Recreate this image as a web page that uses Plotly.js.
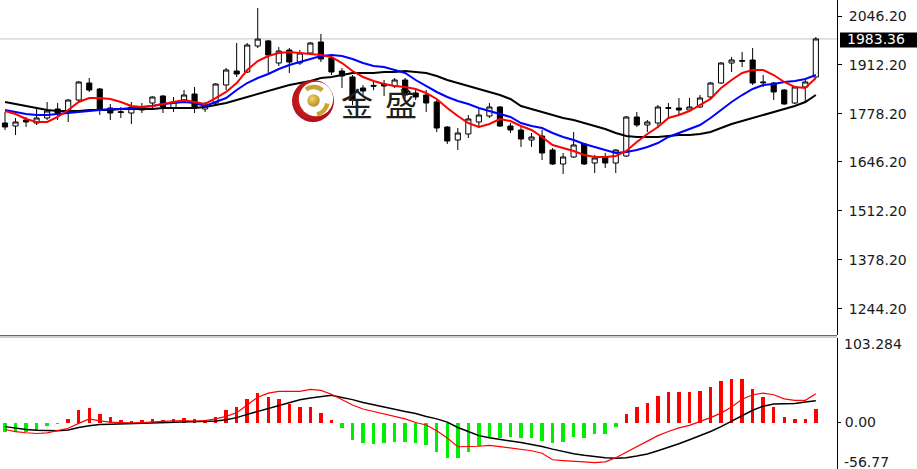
<!DOCTYPE html>
<html>
<head>
<meta charset="utf-8">
<script src="https://cdn.plot.ly/plotly-3.0.1.min.js"></script>
<style>html,body{margin:0;padding:0;background:#fff;}#chart{width:917px;height:469px;}</style>
</head>
<body>
<div id="chart"></div>
<script>
// ---- candle data ----
const open = [1753.0,1744.8,1761.2,1753.0,1766.7,1791.4,1783.2,1816.0,1862.6,1846.2,
1794.1,1784.0,1780.4,1788.6,1807.8,1827.0,1794.1,1816.0,1832.5,1791.4,
1807.8,1857.2,1895.5,1892.8,1964.0,1978.0,1917.4,1953.0,1917.4,1944.8,
1975.0,1931.1,1895.5,1879.1,1848.9,1856.0,1859.9,1854.4,1870.8,1835.2,
1829.7,1810.6,1742.1,1706.4,1722.9,1755.8,1772.2,1796.9,1744.8,1733.8,
1706.4,1717.4,1679.0,1640.7,1659.9,1695.5,1643.4,1659.9,1643.4,1662.6,
1769.5,1747.5,1753.0,1793.0,1794.1,1788.6,1796.9,1824.3,1862.6,1917.4,
1922.0,1925.6,1863.0,1862.6,1843.4,1807.8,1851.7,1879.1];
const high = [1783.2,1766.7,1769.5,1794.1,1810.6,1807.8,1818.0,1868.0,1876.3,1848.9,
1805.1,1796.9,1810.6,1807.8,1826.0,1829.7,1824.3,1843.4,1851.7,1810.6,
1862.0,1903.7,1972.2,1972.2,2068.1,1980.4,1961.0,1958.5,1953.0,1975.0,
1996.9,1933.9,1903.7,1884.5,1857.0,1866.0,1870.8,1876.3,1876.3,1843.4,
1843.4,1816.0,1744.0,1739.3,1774.9,1791.4,1807.8,1799.6,1753.0,1742.1,
1725.6,1733.8,1684.5,1670.8,1728.4,1698.2,1665.3,1670.8,1681.0,1772.2,
1783.2,1761.2,1802.3,1807.8,1821.5,1821.5,1829.7,1865.4,1920.1,1933.9,
1947.6,1958.5,1884.5,1865.4,1846.2,1854.4,1870.8,1988.6];
const low = [1733.8,1720.1,1742.1,1747.5,1761.2,1761.2,1755.8,1810.6,1838.0,1774.9,
1761.2,1766.7,1750.3,1780.4,1794.1,1780.4,1783.2,1807.8,1780.4,1783.2,
1802.3,1843.4,1879.1,1890.0,1958.5,1890.0,1909.2,1890.0,1911.9,1939.3,
1920.1,1884.5,1848.9,1802.3,1830.0,1843.0,1827.0,1848.9,1821.5,1816.0,
1783.2,1728.4,1695.5,1679.0,1711.9,1739.3,1766.7,1742.1,1725.6,1687.3,
1687.3,1651.6,1637.9,1613.3,1657.1,1637.9,1616.0,1629.7,1616.0,1659.9,
1742.1,1728.4,1739.3,1766.7,1774.9,1783.2,1794.1,1821.5,1859.9,1892.8,
1906.0,1857.2,1851.7,1816.0,1803.0,1805.0,1807.8,1877.0];
const close = [1742.1,1755.8,1755.8,1766.7,1785.9,1777.7,1816.0,1865.4,1843.4,1788.6,
1780.4,1782.0,1796.9,1796.9,1824.3,1796.9,1810.6,1829.7,1794.1,1802.3,
1859.9,1898.2,1887.3,1966.7,1983.0,1939.3,1950.3,1920.1,1944.8,1972.2,
1928.4,1892.8,1881.8,1816.0,1840.7,1854.0,1854.4,1870.8,1829.7,1824.3,
1807.8,1739.3,1703.7,1725.6,1764.0,1774.9,1796.9,1744.8,1733.8,1709.2,
1714.7,1670.8,1640.7,1659.9,1692.8,1640.7,1657.1,1643.4,1679.0,1769.5,
1747.5,1755.8,1796.9,1795.0,1788.6,1796.9,1821.5,1862.6,1917.4,1925.6,
1924.0,1862.6,1865.0,1838.0,1805.1,1851.7,1865.4,1983.36];

// ---- moving averages ----
const maRed = [1785.9,1777.7,1764.0,1755.8,1755.8,1769.5,1788.6,1810.6,1821.5,1821.5,
1818.8,1810.6,1799.6,1796.9,1799.6,1805.1,1810.6,1816.0,1810.6,1805.1,
1821.5,1838.0,1862.6,1898.2,1922.9,1936.6,1944.8,1947.6,1944.8,1942.1,
1939.3,1933.9,1917.4,1895.5,1879.1,1868.1,1859.9,1854.4,1851.7,1846.2,
1835.2,1818.8,1794.1,1772.2,1753.0,1742.1,1750.3,1764.0,1758.5,1744.8,
1733.8,1714.7,1692.8,1684.5,1676.3,1665.3,1659.9,1659.9,1662.6,1676.3,
1701.0,1722.9,1742.1,1766.7,1774.9,1785.9,1802.3,1818.8,1848.9,1870.8,
1890.0,1898.2,1898.2,1884.5,1865.4,1851.7,1848.9,1876.3];
const maBlue = [1788.6,1783.2,1777.7,1774.9,1774.9,1777.7,1780.4,1783.2,1785.9,1788.6,
1791.4,1791.4,1794.1,1796.9,1799.6,1805.1,1807.8,1810.6,1807.8,1799.6,
1810.6,1821.5,1843.4,1862.6,1876.3,1887.3,1901.0,1911.9,1920.1,1928.4,
1936.6,1939.3,1936.6,1928.4,1917.4,1909.2,1906.5,1898.2,1890.0,1870.8,
1854.4,1838.0,1824.3,1813.3,1805.1,1794.1,1785.9,1777.7,1769.5,1753.0,
1744.8,1739.3,1725.6,1714.7,1706.4,1695.5,1687.3,1679.0,1670.8,1673.6,
1679.0,1687.3,1698.2,1714.7,1725.6,1736.6,1747.5,1766.7,1788.6,1810.6,
1829.7,1846.2,1857.2,1859.9,1865.4,1868.1,1873.6,1884.5];
const maBlack = [1810.6,1805.1,1799.6,1794.1,1788.6,1785.9,1785.9,1785.9,1788.6,1788.6,
1788.6,1791.4,1791.4,1791.4,1791.4,1794.1,1794.1,1794.1,1794.1,1796.9,
1802.3,1807.8,1816.0,1824.3,1832.5,1840.7,1848.9,1857.2,1862.6,1868.1,
1876.3,1879.1,1884.5,1890.0,1890.0,1890.0,1892.8,1892.8,1895.5,1892.8,
1890.0,1881.8,1870.8,1862.6,1854.4,1846.2,1838.0,1829.7,1818.8,1799.6,
1791.4,1783.2,1774.9,1766.7,1761.2,1753.0,1744.8,1736.6,1725.6,1717.4,
1714.7,1714.7,1714.7,1717.4,1720.1,1720.1,1722.9,1728.4,1739.3,1750.3,
1758.5,1766.7,1774.9,1783.2,1791.4,1799.6,1810.6,1829.7];

// ---- MACD panel ----
const macdHist = [-11.3,-11.3,-11.3,-9.3,-4.0,-1.6,4.9,15.0,17.8,10.9,
6.9,2.8,1.6,2.8,4.9,3.6,4.0,5.7,4.0,2.8,
6.9,15.0,19.0,29.2,36.5,31.2,29.2,23.1,19.0,19.0,
12.2,2.8,-6.5,-21.5,-25.5,-26.7,-25.5,-23.5,-24.3,-25.0,
-27.5,-35.6,-43.7,-43.7,-36.5,-28.4,-18.6,-18.6,-17.4,-19.4,
-18.6,-22.7,-25.5,-24.3,-17.4,-18.6,-14.6,-13.4,-5.3,10.9,
19.0,24.3,32.4,37.3,37.3,37.3,38.1,43.3,50.2,52.7,
52.7,41.3,31.2,19.0,6.9,4.9,4.9,17.0];
const macdLine = [-8.5,-11.0,-12.5,-13.4,-12.6,-10.0,-7.0,-1.0,4.5,2.0,
0.5,0.0,-0.5,0.0,1.0,1.5,2.0,2.5,1.8,2.5,
4.5,7.5,12.0,21.0,31.0,36.0,38.0,38.1,38.1,40.5,
39.3,34.5,27.5,21.5,16.5,13.5,10.8,8.0,4.5,0.0,
-3.0,-10.0,-19.0,-29.6,-29.6,-29.0,-27.8,-29.3,-30.8,-32.5,
-34.5,-37.5,-45.5,-46.5,-47.0,-48.0,-49.0,-48.0,-43.0,-36.5,
-29.5,-23.0,-16.0,-11.0,-6.5,-3.5,1.0,6.0,11.5,19.0,
28.5,34.0,36.0,34.0,29.0,27.1,27.1,35.2];
const signalLine = [-5.0,-7.0,-8.5,-9.5,-10.0,-10.0,-9.0,-6.0,-4.0,-2.4,
-2.0,-1.6,-1.2,-0.8,-0.4,0.0,0.3,0.8,1.4,1.6,
2.0,3.5,6.0,10.0,13.5,17.3,21.0,24.5,27.9,30.0,
32.0,33.2,30.5,28.0,24.5,21.5,19.0,16.3,13.5,11.0,
7.5,4.5,0.5,-6.0,-11.0,-16.0,-18.5,-21.0,-22.7,-24.5,
-26.5,-29.3,-32.5,-35.5,-38.0,-40.0,-41.8,-43.0,-43.7,-43.0,
-41.0,-38.5,-34.5,-30.5,-26.0,-21.0,-16.0,-11.0,-5.0,2.0,
9.0,15.0,20.0,22.5,23.1,23.3,25.0,26.5];

// ---- axis labels ----
const priceTicks = [2046.20, 1912.20, 1778.20, 1646.20, 1512.20, 1378.20, 1244.20];
const priceTickText = ["2046.20","1912.20","1778.20","1646.20","1512.20","1378.20","1244.20"];
const macdMax = 103.284, macdMin = -56.77;
const macdMaxText = "103.284", macdMinText = "-56.77", macdZeroText = "0.00";
const lastPrice = 1983.36, lastPriceText = "1983.36";
const brandChars = ["金", "盛"];

// ---- build ----
const idx = open.map((_, i) => i);
const W = 917, H = 469, R = 80, PW = W - R;
const xRange = [-0.475, 79.01];
const FONT = "DejaVu Sans";

const traces = [
  {type:'candlestick', x: idx, open, high, low, close, xaxis:'x', yaxis:'y',
   increasing:{line:{color:'#000', width:1}, fillcolor:'#ffffff'},
   decreasing:{line:{color:'#000', width:1}, fillcolor:'#000000'},
   whiskerwidth:0, hoverinfo:'skip'},
  {type:'scatter', mode:'lines', x: idx, y: maBlack, xaxis:'x', yaxis:'y', line:{color:'#000000', width:2}},
  {type:'scatter', mode:'lines', x: idx, y: maBlue, xaxis:'x', yaxis:'y', line:{color:'#0000ff', width:2}},
  {type:'scatter', mode:'lines', x: idx, y: maRed, xaxis:'x', yaxis:'y', line:{color:'#ff0000', width:2}},
  {type:'bar', x: idx, y: macdHist, xaxis:'x2', yaxis:'y2', width:0.33,
   marker:{color: macdHist.map(v => v >= 0 ? '#ff0000' : '#00ee00'), line:{width:0}}},
  {type:'scatter', mode:'lines', x: idx, y: signalLine, xaxis:'x2', yaxis:'y2', line:{color:'#000000', width:1.5}},
  {type:'scatter', mode:'lines', x: idx, y: macdLine, xaxis:'x2', yaxis:'y2', line:{color:'#ff0000', width:1.2}}
];

const logoSvg = "<svg xmlns='http://www.w3.org/2000/svg' viewBox='0 0 42 42'>" +
 "<defs><radialGradient id='r' cx='0.45' cy='0.5' r='0.6'><stop offset='0' stop-color='#e42a2a'/><stop offset='1' stop-color='#a50c14'/></radialGradient>" +
 "<radialGradient id='o' cx='0.4' cy='0.35' r='0.7'><stop offset='0' stop-color='#f2d66a'/><stop offset='1' stop-color='#b28a1c'/></radialGradient></defs>" +
 "<circle cx='21' cy='21' r='21' fill='url(#r)'/>" +
 "<circle cx='24' cy='19' r='17.2' fill='#fff'/>" +
 "<path d='M13.9 9.5 A13.5 13.5 0 0 1 30.3 10.2' stroke='#c9a230' stroke-width='4.5' fill='none'/>" +
 "<path d='M35.3 23.5 A13.5 13.5 0 0 1 25 34.4' stroke='#c9a230' stroke-width='4.5' fill='none'/>" +
 "<circle cx='21.5' cy='20.5' r='6.2' fill='url(#o)'/></svg>";

const layout = {
  width: W, height: H, margin:{l:0, r:R, t:0, b:0},
  paper_bgcolor:'#ffffff', plot_bgcolor:'#ffffff', showlegend:false, bargap:0,
  xaxis:{domain:[0,1], range:xRange, anchor:'y', visible:false, showgrid:false, zeroline:false, rangeslider:{visible:false}, fixedrange:true},
  xaxis2:{domain:[0,1], range:xRange, anchor:'y2', visible:false, showgrid:false, zeroline:false, fixedrange:true},
  yaxis:{domain:[1-335/H, 1], range:[1172.14, 2090.04], side:'right', anchor:'x',
    showline:true, linecolor:'#000', linewidth:1, ticks:'outside', ticklen:4, tickcolor:'#000', tickwidth:1,
    tickvals: priceTicks, ticktext: priceTickText, ticklabelstandoff:4,
    tickfont:{family:FONT, size:14, color:'#1a1a1a'}, showgrid:false, zeroline:false, fixedrange:true},
  yaxis2:{domain:[0, 1-338/H], range:[macdMin, macdMax], side:'right', anchor:'x2',
    showline:true, linecolor:'#000', linewidth:1, ticks:'outside', ticklen:3, tickcolor:'#000', tickwidth:1,
    tickvals:[0], ticktext:[macdZeroText], ticklabelstandoff:1,
    tickfont:{family:FONT, size:14, color:'#1a1a1a'}, showgrid:false, zeroline:false, fixedrange:true},
  shapes:[
    {type:'line', xref:'paper', yref:'y', x0:0, x1:1, y0:lastPrice, y1:lastPrice, line:{color:'#c4c4c4', width:1}, layer:'below'},
    {type:'line', xref:'paper', yref:'paper', x0:0, x1:1, y0:1-335.5/H, y1:1-335.5/H, line:{color:'#6a6a6a', width:1}},
    {type:'line', xref:'paper', yref:'paper', x0:0, x1:1, y0:1-337/H, y1:1-337/H, line:{color:'#a0a0a0', width:1}},
    {type:'rect', xref:'paper', yref:'paper', x0:(PW+3)/PW, x1:W/PW, y0:1-47.5/H, y1:1-32.5/H,
     line:{width:0}, fillcolor:'#000000', layer:'above'}
  ],
  images:[
    {source:'data:image/svg+xml;charset=utf-8,' + encodeURIComponent(logoSvg),
     xref:'paper', yref:'paper', x:292/PW, y:1-80/H, sizex:42/PW, sizey:42/H,
     xanchor:'left', yanchor:'top', sizing:'stretch', layer:'above'}
  ],
  annotations:[
    {xref:'paper', yref:'y', x:1, y:lastPrice, xanchor:'left', yanchor:'middle', xshift:9,
     text:lastPriceText, showarrow:false, borderpad:0,
     font:{family:FONT, size:14, color:'#ffffff'}},
    {xref:'paper', yref:'paper', x:1, y:1-344/H, xanchor:'left', yanchor:'middle', xshift:5,
     text:macdMaxText, showarrow:false, font:{family:FONT, size:14, color:'#1a1a1a'}},
    {xref:'paper', yref:'paper', x:1, y:1-462/H, xanchor:'left', yanchor:'middle', xshift:5,
     text:macdMinText, showarrow:false, font:{family:FONT, size:14, color:'#1a1a1a'}},
    {xref:'paper', yref:'paper', x:357/PW, y:1-102/H, xanchor:'center', yanchor:'middle',
     text:brandChars[0], showarrow:false, font:{family:'Noto Sans CJK SC', size:32, color:'#1e1e1e'}},
    {xref:'paper', yref:'paper', x:401/PW, y:1-102/H, xanchor:'center', yanchor:'middle',
     text:brandChars[1], showarrow:false, font:{family:'Noto Sans CJK SC', size:32, color:'#1e1e1e'}}
  ]
};

Plotly.newPlot('chart', traces, layout, {staticPlot:true, displayModeBar:false});
</script>
</body>
</html>
